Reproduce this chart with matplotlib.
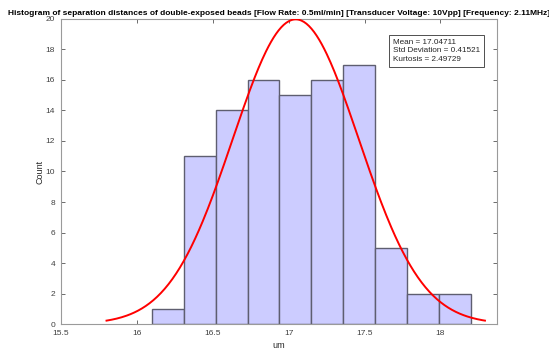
import numpy as np
import matplotlib
matplotlib.use("Agg")
import matplotlib.pyplot as plt

plt.rcParams['font.family'] = ['Liberation Sans', 'DejaVu Sans']

# Histogram bins (left edge of first bin, bin width) and counts
bin_start = 16.10
bin_width = 0.21
counts = [1, 11, 14, 16, 15, 16, 17, 5, 2, 2]

# Fitted normal distribution statistics
mean_val = 17.04711
std_val = 0.41521
kurt_val = 2.49729

x_ticks = [15.5, 16, 16.5, 17, 17.5, 18]
y_ticks = list(range(0, 21, 2))

fig = plt.figure(figsize=(5.49, 3.49), dpi=100)
ax = fig.add_axes([0.1106, 0.0716, 0.7941, 0.874])

edges = bin_start + bin_width * np.arange(len(counts) + 1)
ax.bar(edges[:-1], counts, width=bin_width, align='edge',
       color='#ccccff', edgecolor='#5e5e70', linewidth=1.0, zorder=2)

# Normal fit scaled to counts, over mean +/- 3 sigma
n_total = sum(counts)
xs = np.linspace(mean_val - 3 * std_val, mean_val + 3 * std_val, 300)
pdf = np.exp(-0.5 * ((xs - mean_val) / std_val) ** 2) / (std_val * np.sqrt(2 * np.pi))
ax.plot(xs, pdf * n_total * bin_width, color='#ff0000', linewidth=1.4, zorder=3)

ax.set_xlim(15.5, 18.37)
ax.set_ylim(0, 20)
ax.set_xticks(x_ticks)
ax.set_xticklabels([f"{t:g}" for t in x_ticks])
ax.set_yticks(y_ticks)

tick_color = '#404040'
ax.tick_params(direction='in', top=True, right=True, length=3, width=0.6,
               color='#555555', labelsize=6, labelcolor=tick_color)
ax.tick_params(axis='x', pad=4)
ax.tick_params(axis='y', pad=4)
for s in ax.spines.values():
    s.set_color('#9a9a9a')
    s.set_linewidth(0.8)

ax.set_xlabel('um', fontsize=6.5, color='#262626', labelpad=3)
ax.set_ylabel('Count', fontsize=6.5, color='#262626', labelpad=1)
ax.set_title('Histogram of separation distances of double-exposed beads '
             '[Flow Rate: 0.5ml/min] [Transducer Voltage: 10Vpp] [Frequency: 2.11MHz]',
             fontsize=6.0, fontweight='bold', color='#000000', pad=3)

stats_text = (f"Mean = {mean_val:.5f}\n"
              f"Std Deviation = {std_val:.5f}\n"
              f"Kurtosis = {kurt_val:.5f}")
ax.text(0.762, 0.935, stats_text, transform=ax.transAxes, fontsize=5.9,
        va='top', ha='left', color='#262626', linespacing=1.3,
        bbox=dict(boxstyle='square,pad=0.5', facecolor='white',
                  edgecolor='#333333', linewidth=0.6), zorder=5)

fig.savefig('out.png', dpi=100)
